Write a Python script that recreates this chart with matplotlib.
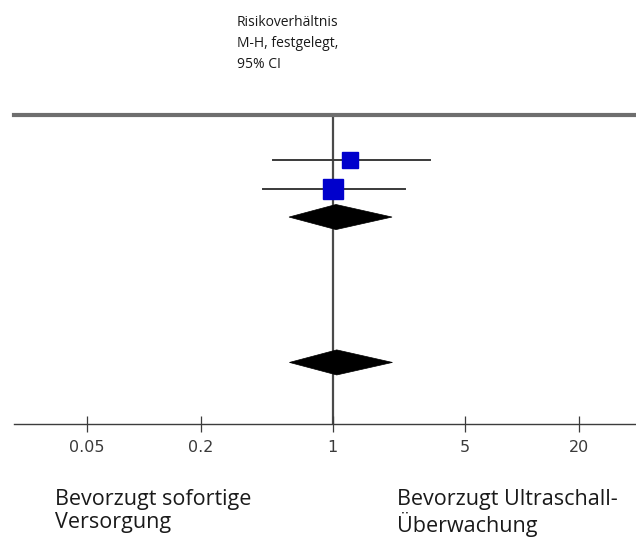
import matplotlib
matplotlib.use("Agg")
import matplotlib.pyplot as plt
from matplotlib.patches import Polygon

# study estimates (risk ratio, 95% CI) and square sizes
study_rr = [1.24, 1.00]
study_lo = [0.483, 0.43]
study_hi = [3.27, 2.41]
study_rows = [0, 1]
study_msize = [11, 14]

# pooled estimates (diamonds)
pooled_rr = [1.04, 1.05]
pooled_lo = [0.587, 0.59]
pooled_hi = [2.06, 2.07]
pooled_rows = [2, 7.1]

tick_vals = [0.05, 0.2, 1, 5, 20]
tick_labels = ["0.05", "0.2", "1", "5", "20"]

header = "Risikoverhältnis\nM-H, festgelegt,\n95% CI"
left_note = "Bevorzugt sofortige\nVersorgung"
right_note = "Bevorzugt Ultraschall-\nÜberwachung"

W, H = 636, 537
fig = plt.figure(figsize=(W / 100, H / 100), dpi=100)
ax = fig.add_axes([14 / W, (H - 424) / H, 1 - 14 / W, (424 - 115) / H])

ax.set_xscale("log")
ax.set_xlim(0.02055, 40.3)
ax.set_ylim(9.26, -1.58)

for s in ["left", "right"]:
    ax.spines[s].set_visible(False)
ax.spines["top"].set_color("#6e6e6e")
ax.spines["top"].set_linewidth(3.0)
ax.spines["bottom"].set_color("#3c3c3c")
ax.spines["bottom"].set_linewidth(1.0)

ax.set_yticks([])
ax.set_xticks(tick_vals)
ax.set_xticklabels(tick_labels)
ax.minorticks_off()
ax.tick_params(axis="x", direction="inout", length=11, width=0.9,
               color="#3c3c3c", labelsize=11.5, labelcolor="#3a3a3a", pad=6)

# line of no effect
ax.axvline(1, color="#4a4a4a", lw=1.6, zorder=1)

# confidence intervals and squares
for r, lo, hi, est, ms in zip(study_rows, study_lo, study_hi, study_rr, study_msize):
    ax.plot([lo, hi], [r, r], color="#3a3a3a", lw=1.4, zorder=2)
    ax.plot(est, r, marker="s", ms=ms, color="#0000cc", mec="#0000cc", zorder=3)

# pooled diamonds
half_h = 0.44
for r, lo, hi, est in zip(pooled_rows, pooled_lo, pooled_hi, pooled_rr):
    pts = [(lo, r), (est, r - half_h), (hi, r), (est, r + half_h)]
    ax.add_patch(Polygon(pts, closed=True, fc="black", ec="black", lw=0.5, zorder=3))

fig.text(237 / W, 1 - 15 / H, header, ha="left", va="top", fontsize=10,
         family="Open Sans", color="#1a1a1a", linespacing=1.55)
fig.text(55 / W, 1 - 489 / H, left_note, ha="left", va="top", fontsize=15.5,
         family="Open Sans", color="#1a1a1a", linespacing=1.12)
fig.text(397 / W, 1 - 489 / H, right_note, ha="left", va="top", fontsize=15.5,
         family="Open Sans", color="#1a1a1a", linespacing=1.12)

fig.savefig("out.png", dpi=100)
